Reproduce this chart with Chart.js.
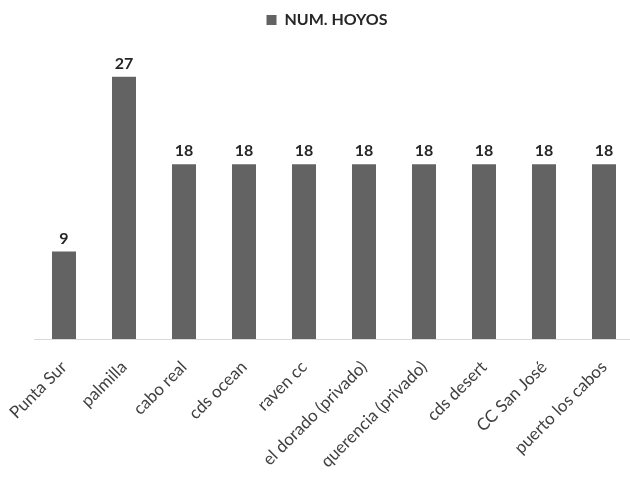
<!DOCTYPE html>
<html>
<head>
<meta charset="utf-8">
<script src="https://cdn.jsdelivr.net/npm/chart.js@4/dist/chart.umd.min.js"></script>
<style>
  html, body { margin: 0; padding: 0; background: #ffffff; overflow: hidden; }
  #wrap { width: 630px; height: 477px; position: relative; overflow: hidden; }
</style>
</head>
<body>
<div id="wrap"><canvas id="c" width="634" height="477"></canvas></div>
<script>
const categories = ["Punta Sur", "palmilla", "cabo real", "cds ocean", "raven cc", "el dorado (privado)", "querencia (privado)", "cds desert", "CC San José", "puerto los cabos"];
const seriesName = "NUM. HOYOS";
const holes = [9, 27, 18, 18, 18, 18, 18, 18, 18, 18];

const valueLabels = {
  id: 'valueLabels',
  afterDatasetsDraw(chart) {
    const ctx = chart.ctx;
    const meta = chart.getDatasetMeta(0);
    ctx.save();
    ctx.font = 'bold 16px Lato';
    ctx.fillStyle = '#262626';
    ctx.textAlign = 'center';
    ctx.textBaseline = 'bottom';
    meta.data.forEach((bar, i) => {
      ctx.fillText(String(chart.data.datasets[0].data[i]), bar.x, bar.y - 5);
    });
    ctx.restore();
  }
};

new Chart(document.getElementById('c'), {
  type: 'bar',
  data: {
    labels: categories,
    datasets: [{
      label: seriesName,
      data: holes,
      backgroundColor: '#636363',
      borderWidth: 0,
      barPercentage: 0.4,
      categoryPercentage: 1.0
    }]
  },
  options: {
    responsive: false,
    animation: false,
    layout: { padding: { left: 20, right: 0, top: 0, bottom: 0 } },
    plugins: {
      legend: {
        display: true,
        position: 'top',
        labels: {
          boxWidth: 10,
          boxHeight: 10,
          color: '#262626',
          font: { family: 'Lato', size: 16, weight: 'bold' },
          padding: 12
        }
      },
      tooltip: { enabled: false }
    },
    scales: {
      x: {
        grid: { display: false, drawTicks: false },
        border: { display: true, color: '#d9d9d9', width: 1 },
        afterFit(scale) {
          scale.height = 138;
          scale.paddingLeft = 0;
          scale.paddingRight = 0;
        },
        ticks: {
          minRotation: 45,
          maxRotation: 45,
          autoSkip: false,
          padding: 18,
          color: '#404040',
          font: { family: 'Lato', size: 17 }
        }
      },
      y: {
        display: true,
        min: 0,
        max: 31,
        grid: { display: false, drawTicks: false },
        border: { display: false },
        ticks: { display: false },
        afterFit(scale) { scale.width = 14; }
      }
    }
  },
  plugins: [valueLabels]
});
</script>
</body>
</html>
